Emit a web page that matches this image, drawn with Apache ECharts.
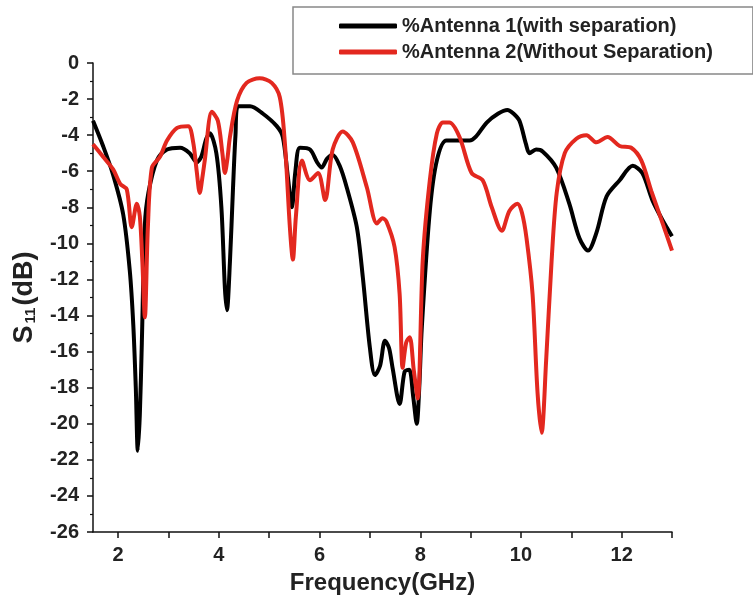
<!DOCTYPE html>
<html>
<head>
<meta charset="utf-8">
<script src="https://cdn.jsdelivr.net/npm/echarts@6/dist/echarts.min.js"></script>
<style>
html, body { margin: 0; padding: 0; background: #fff; }
#chart { width: 753px; height: 603px; }
</style>
</head>
<body>
<div id="chart"></div>
<script>
var seriesNames = ['%Antenna 1(with separation)', '%Antenna 2(Without Separation)'];

var freq1 = [1.5, 1.7, 1.9, 2.1, 2.23, 2.3, 2.35, 2.39, 2.43, 2.47, 2.53, 2.6, 2.77, 2.97, 3.23, 3.42, 3.56, 3.65, 3.75, 3.82,
	3.95, 4.05, 4.12, 4.16, 4.22, 4.28, 4.33, 4.38, 4.62, 4.87, 5.15, 5.27, 5.37, 5.45, 5.52, 5.61, 5.81, 5.95, 6.04, 6.15,
	6.26, 6.4, 6.54, 6.74, 6.86, 7.0, 7.1, 7.2, 7.3, 7.38, 7.45, 7.59, 7.69, 7.78, 7.86, 7.93, 7.98, 8.03, 8.19, 8.33,
	8.52, 8.98, 9.1, 9.32, 9.55, 9.73, 9.85, 9.97, 10.1, 10.17, 10.3, 10.43, 10.7, 10.96, 11.16, 11.33, 11.5, 11.7, 11.96, 12.22,
	12.41, 12.61, 12.81, 13.0];
var s11Ant1 = [-3.2, -4.6, -6.2, -8.4, -11.5, -14.5, -18, -21.5, -19.5, -15.5, -9, -7.2, -5.4, -4.8, -4.7, -5.0, -5.5, -5.2, -4.2, -3.9,
	-5, -8, -12.5, -13.7, -11, -7, -4, -2.4, -2.4, -2.8, -3.5, -4.1, -6.3, -8, -6, -4.7, -4.8, -5.5, -5.8, -5.3,
	-5.1, -5.7, -6.9, -9.1, -11.9, -15.8, -17.3, -16.8, -15.4, -15.8, -16.9, -18.9, -17.1, -17, -18.5, -20, -18, -14.7, -8.2, -5.4,
	-4.3, -4.3, -4.1, -3.3, -2.8, -2.6, -2.8, -3.2, -4.5, -5.0, -4.8, -4.9, -5.8, -7.8, -9.7, -10.4, -9.4, -7.4, -6.5, -5.7,
	-6.1, -7.6, -8.7, -9.6];

var freq2 = [1.5, 1.7, 1.9, 2.04, 2.17, 2.27, 2.37, 2.43, 2.48, 2.53, 2.59, 2.67, 2.83, 2.97, 3.17, 3.39, 3.49, 3.56, 3.62, 3.68,
	3.72, 3.86, 3.98, 4.07, 4.12, 4.17, 4.22, 4.36, 4.55, 4.81, 5.05, 5.21, 5.31, 5.41, 5.47, 5.53, 5.65, 5.81, 5.97, 6.11,
	6.26, 6.46, 6.66, 6.94, 7.14, 7.25, 7.33, 7.49, 7.59, 7.65, 7.72, 7.79, 7.87, 7.95, 8.05, 8.19, 8.33, 8.45, 8.58, 8.78,
	9.02, 9.24, 9.42, 9.62, 9.77, 9.93, 10.02, 10.11, 10.23, 10.33, 10.41, 10.5, 10.61, 10.71, 10.87, 11.1, 11.3, 11.5, 11.72, 11.96,
	12.19, 12.39, 12.59, 12.79, 13.0];
var s11Ant2 = [-4.5, -5.2, -5.9, -6.7, -7.0, -9.1, -7.8, -8.5, -11, -14.1, -9.1, -5.8, -5.2, -4.3, -3.6, -3.5, -4.4, -6, -7.2, -6.2,
	-5.4, -2.7, -3.2, -5, -6.1, -5.3, -4.1, -2.1, -1.1, -0.85, -1.1, -1.9, -4.4, -9.1, -10.9, -8.5, -5.4, -6.5, -6.1, -7.6,
	-4.8, -3.8, -4.4, -6.9, -8.9, -8.6, -8.8, -10.2, -12.8, -16.9, -15.5, -15.2, -17, -18.6, -10.9, -6.5, -3.9, -3.3, -3.3, -4.1,
	-6.1, -6.5, -8.0, -9.3, -8.2, -7.8, -8.3, -9.7, -12.8, -18.3, -20.5, -16.5, -10.9, -7.2, -5.0, -4.2, -4.0, -4.4, -4.1, -4.6,
	-4.7, -5.4, -7.1, -8.7, -10.4];

var xTicks = [2, 3, 4, 5, 6, 7, 8, 9, 10, 11, 12, 13];
var xLabels = [2, 4, 6, 8, 10, 12];

function pairs(xs, ys) {
	var out = [];
	for (var i = 0; i < xs.length; i++) {
		out.push([xs[i], ys[i]]);
	}
	return out;
}

var font = 'Liberation Sans, Arial, sans-serif';
var myChart = echarts.init(document.getElementById('chart'));
var option = {
	animation: false,
	backgroundColor: '#fff',
	grid: {
		left: 93,
		right: 81,
		top: 63,
		bottom: 71
	},
	legend: {
		orient: 'vertical',
		left: 293,
		top: 7,
		padding: [9, 40, 12, 46],
		itemGap: 6,
		itemWidth: 58,
		itemHeight: 5,
		icon: 'roundRect',
		borderColor: '#888',
		borderWidth: 1.5,
		textStyle: {
			fontFamily: font,
			fontWeight: 'bold',
			fontSize: 20,
			color: '#222'
		},
		data: seriesNames
	},
	xAxis: {
		type: 'value',
		min: 1.5,
		max: 13,
		name: 'Frequency(GHz)',
		nameLocation: 'middle',
		nameGap: 39,
		nameTextStyle: {
			fontFamily: font,
			fontWeight: 'bold',
			fontSize: 24,
			color: '#222'
		},
		axisLine: { onZero: false, lineStyle: { color: '#111', width: 1.5 } },
		axisTick: {
			show: true,
			length: 6,
			customValues: xTicks,
			lineStyle: { color: '#111', width: 1.5 }
		},
		axisLabel: {
			customValues: xLabels,
			margin: 13,
			fontFamily: font,
			fontWeight: 'bold',
			fontSize: 20,
			color: '#222'
		},
		splitLine: { show: false }
	},
	yAxis: {
		type: 'value',
		min: -26,
		max: 0,
		interval: 2,
		name: 'S{sub|11}(dB)',
		nameLocation: 'middle',
		nameGap: 55,
		nameTextStyle: {
			fontFamily: font,
			fontWeight: 'bold',
			fontSize: 27,
			color: '#222',
			rich: {
				sub: {
					fontFamily: font,
					fontWeight: 'bold',
					fontSize: 15,
					color: '#222',
					verticalAlign: 'bottom',
					padding: [12, 2, 0, 2]
				}
			}
		},
		axisLine: { show: true, onZero: false, lineStyle: { color: '#111', width: 1.5 } },
		axisTick: {
			show: true,
			length: 6,
			lineStyle: { color: '#111', width: 1.5 }
		},
		minorTick: {
			show: true,
			splitNumber: 2,
			length: 3,
			lineStyle: { color: '#111', width: 1.2 }
		},
		axisLabel: {
			margin: 14,
			fontFamily: font,
			fontWeight: 'bold',
			fontSize: 20,
			color: '#222'
		},
		splitLine: { show: false }
	},
	series: [
		{
			name: seriesNames[0],
			type: 'line',
			data: pairs(freq1, s11Ant1),
			showSymbol: false,
			smooth: 0.3,
			color: '#000',
			lineStyle: { width: 4, color: '#000' }
		},
		{
			name: seriesNames[1],
			type: 'line',
			data: pairs(freq2, s11Ant2),
			showSymbol: false,
			smooth: 0.3,
			color: '#e3281f',
			lineStyle: { width: 4, color: '#e3281f' }
		}
	]
};
myChart.setOption(option);
</script>
</body>
</html>
